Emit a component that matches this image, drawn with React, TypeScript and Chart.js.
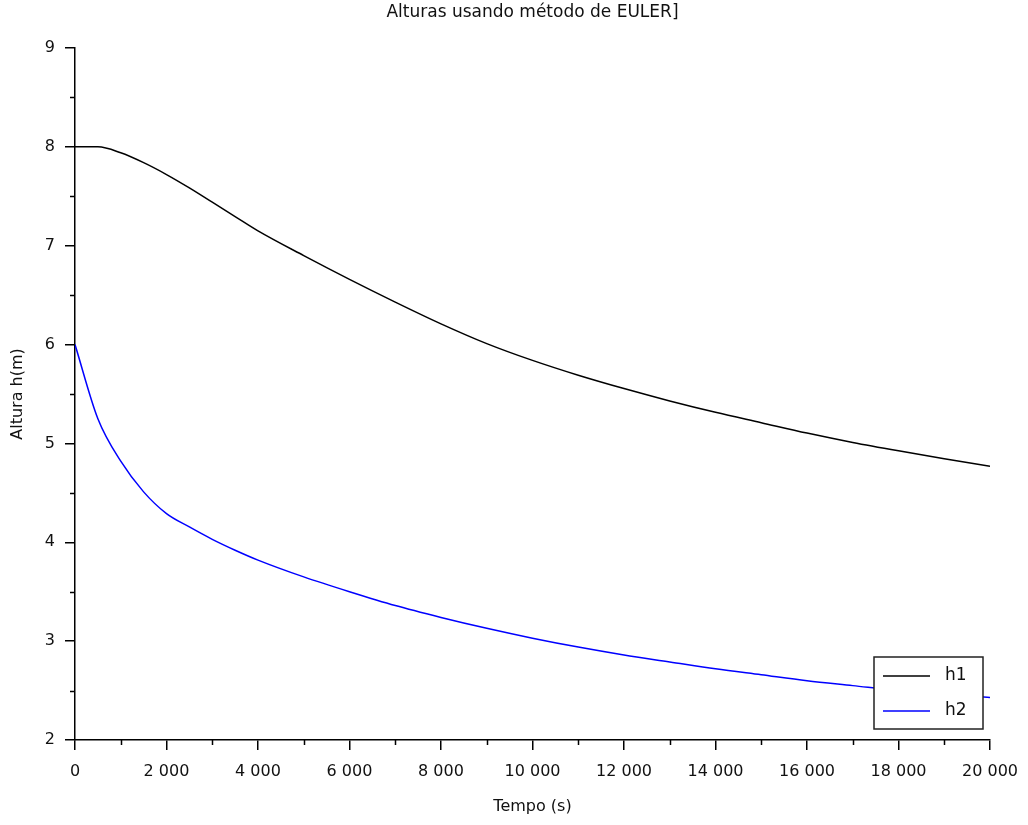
import React, { useEffect, useRef } from "react";
import { Chart, registerables } from "chart.js";

Chart.register(...registerables);

const TITLE = "Alturas usando método de EULER]";
const X_TITLE = "Tempo (s)";
const Y_TITLE = "Altura h(m)";
const SERIES_LABELS = ["h1", "h2"];
const SERIES_COLORS = ["#000000", "#0000ff"];

const times = [
  0, 500, 1000, 1500, 2000, 2500, 3000, 3500, 4000, 5000, 6000, 7000, 8000,
  9000, 10000, 11000, 12000, 13000, 14000, 15000, 16000, 17000, 18000, 19000,
  20000,
];
const h1 = [
  8.0, 8.0, 7.94, 7.84, 7.72, 7.585, 7.44, 7.295, 7.15, 6.9, 6.66, 6.43, 6.21,
  6.01, 5.84, 5.69, 5.555, 5.43, 5.315, 5.21, 5.105, 5.01, 4.925, 4.845, 4.77,
];
const h2 = [
  6.0, 5.25, 4.82, 4.51, 4.29, 4.155, 4.03, 3.92, 3.82, 3.65, 3.5, 3.36, 3.24,
  3.13, 3.03, 2.94, 2.86, 2.79, 2.72, 2.66, 2.6, 2.55, 2.5, 2.46, 2.43,
];

const X_MIN = 0;
const X_MAX = 20000;
const X_STEP = 2000;
const Y_MIN = 2;
const Y_MAX = 9;
const Y_STEP = 1;

const FONT = "'DejaVu Sans', sans-serif";

function fmt(v: number): string {
  return String(Math.round(v)).replace(/\B(?=(\d{3})+(?!\d))/g, " ");
}

const extrasPlugin = {
  id: "extras",
  afterDraw(chart: any) {
    const { ctx, chartArea, scales } = chart;
    const xs = scales.x;
    const ys = scales.y;
    ctx.save();
    // minor ticks
    ctx.strokeStyle = "#000";
    ctx.lineWidth = 1.5;
    ctx.beginPath();
    for (let v = X_MIN + X_STEP / 2; v < X_MAX; v += X_STEP) {
      const px = Math.round(xs.getPixelForValue(v)) + 0.5;
      ctx.moveTo(px, chartArea.bottom);
      ctx.lineTo(px, chartArea.bottom + 5);
    }
    for (let v = Y_MIN + Y_STEP / 2; v < Y_MAX; v += Y_STEP) {
      const py = Math.round(ys.getPixelForValue(v)) + 0.5;
      ctx.moveTo(chartArea.left, py);
      ctx.lineTo(chartArea.left - 5, py);
    }
    ctx.stroke();

    // title
    ctx.fillStyle = "#111";
    ctx.font = `17px ${FONT}`;
    ctx.textAlign = "center";
    ctx.textBaseline = "middle";
    ctx.fillText(TITLE, (chartArea.left + chartArea.right) / 2, 13);

    // legend
    const bw = 109;
    const bh = 72;
    const bx = chartArea.right - 7 - bw;
    const by = chartArea.bottom - 11 - bh;
    ctx.fillStyle = "#fff";
    ctx.fillRect(bx, by, bw, bh);
    ctx.strokeStyle = "#222";
    ctx.lineWidth = 1.5;
    ctx.strokeRect(bx, by, bw, bh);
    chart.data.datasets.forEach((ds: any, i: number) => {
      const ly = by + 19 + i * 35;
      ctx.strokeStyle = ds.borderColor;
      ctx.lineWidth = 1.5;
      ctx.beginPath();
      ctx.moveTo(bx + 9, ly);
      ctx.lineTo(bx + 56, ly);
      ctx.stroke();
      ctx.fillStyle = "#111";
      ctx.font = `17px ${FONT}`;
      ctx.textAlign = "left";
      ctx.textBaseline = "middle";
      ctx.fillText(ds.label, bx + 71, ly);
    });
    ctx.restore();
  },
};

export default function App() {
  const ref = useRef<HTMLCanvasElement | null>(null);

  useEffect(() => {
    if (!ref.current) return;
    const datasets = [h1, h2].map((vals, i) => ({
      label: SERIES_LABELS[i],
      data: times.map((t, j) => ({ x: t, y: vals[j] })),
      borderColor: SERIES_COLORS[i],
      backgroundColor: SERIES_COLORS[i],
      borderWidth: 1.5,
      pointRadius: 0,
      cubicInterpolationMode: "monotone" as const,
      fill: false,
    }));
    const chart = new Chart(ref.current, {
      type: "line",
      data: { datasets },
      plugins: [extrasPlugin],
      options: {
        animation: false,
        responsive: false,
        maintainAspectRatio: false,
        layout: { padding: { top: 48, right: 38, left: 0, bottom: 0 } },
        plugins: {
          legend: { display: false },
          title: { display: false },
          tooltip: { enabled: false },
        },
        scales: {
          x: {
            type: "linear",
            min: X_MIN,
            max: X_MAX,
            afterFit: (s: any) => {
              s.height = 85;
              s.paddingLeft = 0;
              s.paddingRight = 0;
            },
            ticks: {
              stepSize: X_STEP,
              autoSkip: false,
              maxRotation: 0,
              padding: 12,
              color: "#111",
              font: { family: FONT, size: 16 },
              callback: (v: any) => fmt(Number(v)),
            },
            grid: {
              drawOnChartArea: false,
              drawTicks: true,
              tickLength: 10,
              color: "#000",
              lineWidth: 1.5,
            },
            border: { display: true, color: "#000", width: 1.5 },
            title: {
              display: true,
              text: X_TITLE,
              color: "#111",
              font: { family: FONT, size: 16 },
              padding: { top: 4, bottom: 9 },
            },
          },
          y: {
            type: "linear",
            min: Y_MIN,
            max: Y_MAX,
            afterFit: (s: any) => {
              s.width = 75;
              s.paddingTop = 0;
              s.paddingBottom = 0;
            },
            ticks: {
              stepSize: Y_STEP,
              padding: 10,
              color: "#111",
              font: { family: FONT, size: 16 },
              callback: (v: any) => String(v),
            },
            grid: {
              drawOnChartArea: false,
              drawTicks: true,
              tickLength: 10,
              color: "#000",
              lineWidth: 1.5,
            },
            border: { display: true, color: "#000", width: 1.5 },
            title: {
              display: true,
              text: Y_TITLE,
              color: "#111",
              font: { family: FONT, size: 16 },
              padding: { top: 8, bottom: 4 },
            },
          },
        },
      },
    });
    return () => chart.destroy();
  }, []);

  return (
    <div
      style={{
        position: "fixed",
        left: 0,
        top: 0,
        width: 1028,
        height: 825,
        background: "#fff",
      }}
    >
      <canvas ref={ref} width={1028} height={825} />
    </div>
  );
}
